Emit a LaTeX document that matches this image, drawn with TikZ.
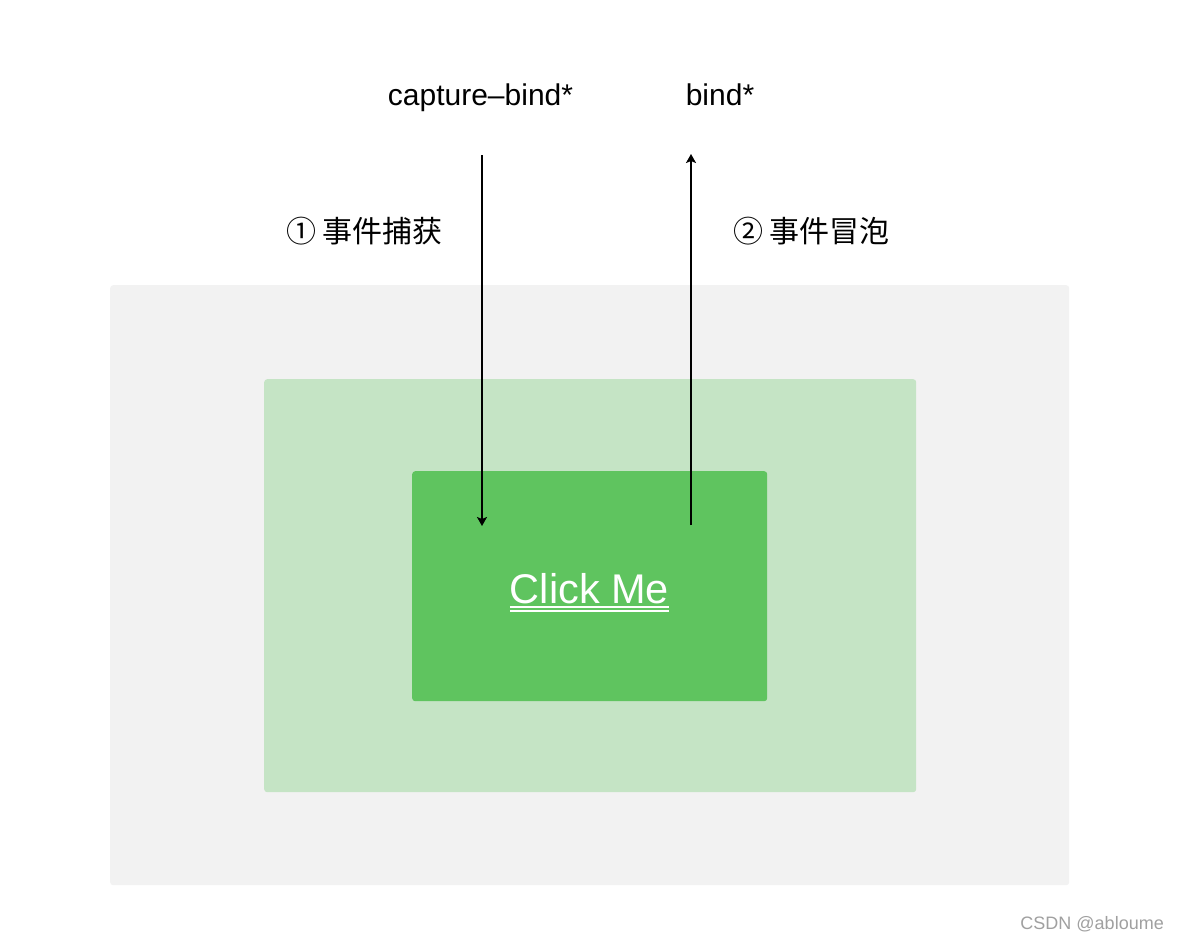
\documentclass[tikz,border=0pt]{standalone}
\usepackage{fontspec}
\setmainfont{Liberation Sans}
\newfontfamily\cjk{Noto Sans CJK SC}
\usetikzlibrary{arrows.meta}
\definecolor{outerbg}{HTML}{F2F2F2}
\definecolor{midgreen}{HTML}{C5E4C5}
\definecolor{btngreen}{HTML}{5FC45F}
\definecolor{wm}{HTML}{A0A0A0}
\tikzset{
  box/.style={rounded corners=3pt, draw=none, anchor=north west, inner sep=0pt},
  lbl/.style={inner sep=0pt, font=\fontsize{30}{34}\selectfont},
  cjklbl/.style={inner sep=0pt, font=\cjk\fontsize{30}{34}\selectfont},
  flow/.style={line width=1.6pt, -{Stealth[length=9pt,width=10pt,inset=2pt]}}
}
\begin{document}
\begin{tikzpicture}[x=1pt,y=-1pt]
\useasboundingbox (0,0) rectangle (1178,940);
\fill[white] (0,0) rectangle (1178,940);
\node[box, fill=outerbg, minimum width=959pt, minimum height=600pt] (outer) at (110,285) {};
\node[box, fill=midgreen, minimum width=652pt, minimum height=413pt] (mid) at (264,379) {};
\node[box, fill=btngreen, minimum width=355pt, minimum height=230pt] (btn) at (412,471) {};
\node[inner sep=0pt, text=white, font=\fontsize{41.5}{48}\selectfont, anchor=base] (click) at (589.5,603) {Click Me};
\draw[white, line width=1.4pt] ([yshift=-4pt]click.base west) -- ([yshift=-4pt]click.base east);
\draw[white, line width=1.4pt] ([yshift=-8pt]click.base west) -- ([yshift=-8pt]click.base east);
\node[lbl, anchor=base] (cap) at (480.5,105) {capture\char"2013 bind*};
\node[lbl, anchor=base] (bnd) at (720,105) {bind*};
\node[cjklbl, anchor=base west] (c1) at (286,242) {① 事件捕获};
\node[cjklbl, anchor=base west] (c2) at (733,242) {② 事件冒泡};
\coordinate (capstart) at (482,155);
\coordinate (capend) at (482,526);
\coordinate (bubstart) at (691,525);
\coordinate (bubend) at (691,154);
\draw[flow] (capstart) -- (capend);
\draw[flow] (bubstart) -- (bubend);
\node[inner sep=0pt, text=wm, font=\fontsize{18}{22}\selectfont, anchor=base east] (wmk) at (1164,929) {CSDN @abloume};
\end{tikzpicture}
\end{document}
